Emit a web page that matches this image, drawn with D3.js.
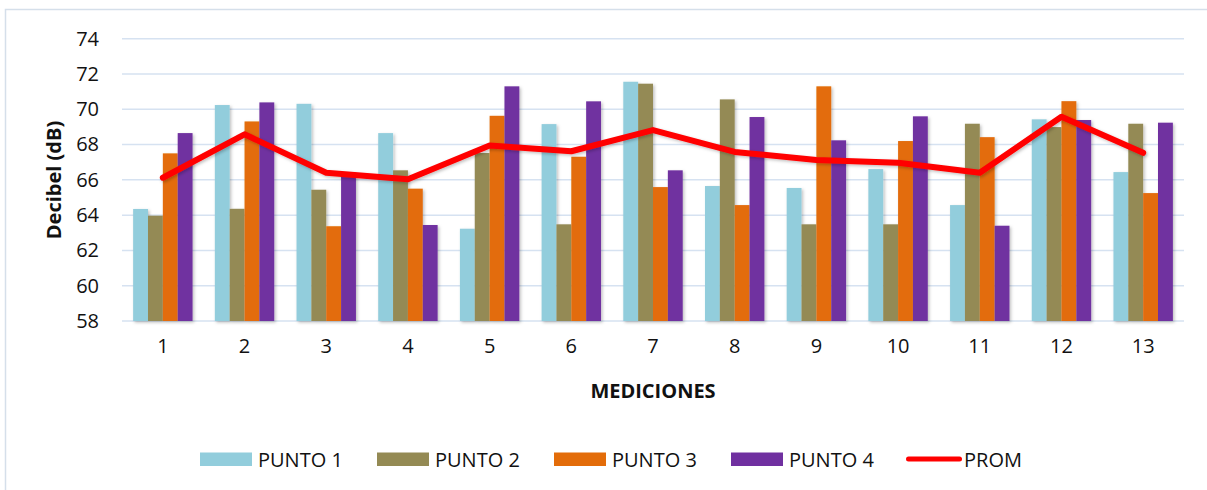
<!DOCTYPE html>
<html>
<head>
<meta charset="utf-8">
<script src="https://cdn.jsdelivr.net/npm/d3@7"></script>
<style>
  html, body { margin: 0; padding: 0; background: #ffffff; }
  svg { display: block; font-family: "Open Sans", "Liberation Sans", sans-serif; }
</style>
</head>
<body>
<svg id="chart" width="1207" height="490"></svg>
<script>
// Measurement numbers (x axis)
const mediciones = ["1","2","3","4","5","6","7","8","9","10","11","12","13"];

// Sound level per measuring point, dB
const punto1 = [64.35, 70.24, 70.31, 68.65, 63.23, 69.16, 71.56, 65.65, 65.54, 66.61, 64.57, 69.43, 66.44];
const punto2 = [63.97, 64.36, 65.44, 66.54, 67.52, 63.48, 71.45, 70.56, 63.48, 63.48, 69.18, 68.99, 69.18];
const punto3 = [67.50, 69.31, 63.37, 65.50, 69.63, 67.31, 65.59, 64.57, 71.30, 68.20, 68.42, 70.46, 65.25];
const punto4 = [68.65, 70.39, 66.40, 63.44, 71.30, 70.45, 66.54, 69.56, 68.24, 69.60, 63.40, 69.39, 69.24];

// Average line
const prom = [66.12, 68.58, 66.40, 66.03, 67.95, 67.62, 68.82, 67.58, 67.13, 66.97, 66.40, 69.58, 67.53];

// Y axis ticks
const yTicks = [58, 60, 62, 64, 66, 68, 70, 72, 74];

const seriesNames = ["PUNTO 1", "PUNTO 2", "PUNTO 3", "PUNTO 4"];
const seriesValues = [punto1, punto2, punto3, punto4];
const seriesColors = ["#92cddc", "#948a54", "#e36c09", "#7030a0"];
const promName = "PROM";
const promColor = "#ff0000";

const FONT_SIZE = 20;
const TEXT_COLOR = "#111111";

const svg = d3.select("#chart");

// Soft shadow under bars and line
const defs = svg.append("defs");
const shadow = defs.append("filter").attr("id", "shadow")
  .attr("x", "-20%").attr("y", "-20%").attr("width", "140%").attr("height", "140%");
shadow.append("feDropShadow")
  .attr("dx", 1.5).attr("dy", 1.5).attr("stdDeviation", 1.5)
  .attr("flood-color", "#000").attr("flood-opacity", 0.25);

// Chart frame
svg.append("rect")
  .attr("x", 5.5).attr("y", 9.5).attr("width", 1220).attr("height", 500)
  .attr("fill", "none").attr("stroke", "#d5dfea").attr("stroke-width", 1.5);

const plot = { left: 122, right: 1184, top: 38.7, bottom: 321 };

const x = d3.scaleBand()
  .domain(mediciones)
  .range([plot.left, plot.right])
  .paddingInner(1.5 / 5.5)
  .paddingOuter(0.75 / 5.5);

const xInner = d3.scaleBand()
  .domain(d3.range(seriesNames.length))
  .range([0, x.bandwidth()]);

const y = d3.scaleLinear().domain([58, 74]).range([plot.bottom, plot.top]);

// Gridlines
svg.append("g")
  .selectAll("line")
  .data(yTicks)
  .join("line")
  .attr("x1", plot.left).attr("x2", plot.right)
  .attr("y1", d => y(d)).attr("y2", d => y(d))
  .attr("stroke", "#d6e2f1").attr("stroke-width", 1.5);

// Y axis labels
const yAxis = d3.axisLeft(y).tickValues(yTicks).tickSize(0).tickPadding(0);
svg.append("g")
  .attr("transform", `translate(99,0)`)
  .call(yAxis)
  .call(g => g.select(".domain").remove())
  .call(g => g.selectAll("text")
    .attr("font-family", "'Open Sans', sans-serif")
    .attr("font-size", FONT_SIZE).attr("fill", TEXT_COLOR));

// X axis labels
const xAxis = d3.axisBottom(x).tickSize(0).tickPadding(0);
svg.append("g")
  .attr("transform", `translate(0,339)`)
  .call(xAxis)
  .call(g => g.select(".domain").remove())
  .call(g => g.selectAll("text")
    .attr("font-family", "'Open Sans', sans-serif")
    .attr("font-size", FONT_SIZE).attr("fill", TEXT_COLOR));

// Bars
const groups = svg.append("g").attr("filter", "url(#shadow)")
  .selectAll("g")
  .data(mediciones)
  .join("g")
  .attr("transform", d => `translate(${x(d)},0)`);

groups.selectAll("rect")
  .data((d, i) => seriesValues.map((vals, s) => ({ s, v: vals[i] })))
  .join("rect")
  .attr("x", d => xInner(d.s))
  .attr("width", xInner.bandwidth())
  .attr("y", d => y(d.v))
  .attr("height", d => y(58) - y(d.v))
  .attr("fill", d => seriesColors[d.s]);

// Average line
const line = d3.line()
  .x((d, i) => x(mediciones[i]) + x.bandwidth() / 2)
  .y(d => y(d));

svg.append("path")
  .datum(prom)
  .attr("d", line)
  .attr("fill", "none")
  .attr("stroke", promColor)
  .attr("stroke-width", 6)
  .attr("stroke-linejoin", "round")
  .attr("stroke-linecap", "round")
  .attr("filter", "url(#shadow)");

// Axis titles
svg.append("text")
  .attr("transform", "translate(61,180) rotate(-90)")
  .attr("text-anchor", "middle")
  .attr("font-size", FONT_SIZE).attr("font-weight", "bold").attr("fill", TEXT_COLOR)
  .text("Decibel (dB)");

svg.append("text")
  .attr("x", 653).attr("y", 397.5)
  .attr("text-anchor", "middle")
  .attr("font-size", FONT_SIZE).attr("font-weight", "bold").attr("fill", TEXT_COLOR)
  .text("MEDICIONES");

// Legend
const legendItems = seriesNames.map((n, i) => ({ name: n, color: seriesColors[i], type: "bar" }))
  .concat([{ name: promName, color: promColor, type: "line" }]);
const legendX = [200, 377, 554, 731, 906];

const legend = svg.append("g")
  .selectAll("g")
  .data(legendItems)
  .join("g")
  .attr("transform", (d, i) => `translate(${legendX[i]},0)`);

legend.filter(d => d.type === "bar").append("rect")
  .attr("x", 0).attr("y", 452.5).attr("width", 52).attr("height", 13.5)
  .attr("fill", d => d.color);

legend.filter(d => d.type === "line").append("line")
  .attr("x1", 2.5).attr("x2", 53.5).attr("y1", 459).attr("y2", 459)
  .attr("stroke", d => d.color).attr("stroke-width", 5).attr("stroke-linecap", "round");

legend.append("text")
  .attr("x", 58)
  .attr("y", 466.5)
  .attr("font-size", FONT_SIZE).attr("fill", TEXT_COLOR)
  .text(d => d.name);
</script>
</body>
</html>
